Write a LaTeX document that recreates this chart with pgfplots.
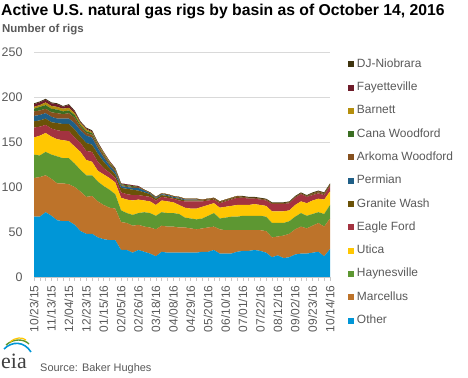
\documentclass[border=0pt]{standalone}
\usepackage{pgfplots}
\pgfplotsset{compat=1.18}
\usepackage{pgfplotstable}
\usepackage{fontspec}
\setmainfont{Liberation Sans}
\newfontfamily\seriffont{Liberation Serif}
\definecolor{cOther}{HTML}{0096D7}
\definecolor{cMarc}{HTML}{BD732A}
\definecolor{cHay}{HTML}{5D9732}
\definecolor{cUti}{HTML}{FFC702}
\definecolor{cEF}{HTML}{A33340}
\definecolor{cGW}{HTML}{6B5208}
\definecolor{cPerm}{HTML}{1F5F87}
\definecolor{cAW}{HTML}{85501F}
\definecolor{cCW}{HTML}{3B6E22}
\definecolor{cBar}{HTML}{B58F0D}
\definecolor{cFay}{HTML}{6E1C2A}
\definecolor{cDJ}{HTML}{3F3410}
\definecolor{txtgray}{HTML}{595959}
\definecolor{gridgray}{HTML}{D9D9D9}
\pgfplotstableread{
x O M H U EF GW P AW CW B F DJ
0 67 43 26 19 11 7 6 5 3 2 3 1
1 67 44 24 22 10 7 6 5 4 2 3 1
2 72 41 26 21 9 7 6 5 4 3 3 1
3 68 41 27 20 9 7 6 5 4 3 3 1
4 63 41 30 19 10 8 5 6 4 3 3 1
5 62 42 28 20 10 8 6 5 3 3 2 1
6 62 41 29 19 11 8 6 6 3 3 3 1
7 58 42 26 19 10 9 7 6 3 2 2 1
8 51 44 24 20 10 7 7 4 2 2 1 1
9 48 41 24 17 10 9 8 3 2 2 1 1
10 48 42 23 15 11 8 8 3 2 1 1 1
11 44 40 22 12 10 9 6 3 1 1 1 1
12 42 38 21 13 7 7 5 3 1 1 1 0
13 41 36 20 13 6 5 3 2 1 1 1 0
14 41 35 16 13 5 4 3 2 1 0 1 0
15 30 31 13 14 6 5 2 1 1 0 1 0
16 30 30 11 15 6 6 2 1 1 0 1 0
17 27 30 12 16 6 6 2 1 1 0 1 0
18 30 28 13 15 5 5 3 1 0 0 1 0
19 28 28 16 13 5 4 2 1 0 0 0 0
20 26 29 16 13 5 3 1 1 0 0 0 0
21 23 30 15 12 5 2 1 1 0 0 0 0
22 28 29 15 13 4 2 1 1 0 0 0 0
23 27 29 15 13 4 2 1 1 0 0 0 0
24 27 29 15 12 4 1 1 1 0 0 0 0
25 27 28 15 10 5 2 1 1 0 0 0 0
26 27 28 11 11 7 1 1 1 0 0 0 0
27 27 27 11 11 8 1 1 1 0 0 0 0
28 27 26 11 12 8 1 1 1 0 0 0 0
29 28 26 11 13 6 1 0 1 0 0 0 0
30 28 27 13 12 5 1 0 1 0 0 0 0
31 30 26 15 11 4 1 0 1 0 0 0 0
32 26 27 12 12 5 1 0 1 0 0 0 0
33 26 26 14 12 6 1 0 1 0 0 0 0
34 26 26 15 12 7 1 0 1 0 0 0 0
35 28 24 15 13 8 1 0 1 0 0 0 0
36 29 23 16 12 8 0 0 1 0 0 0 1
37 29 23 16 12 7 0 0 1 0 0 0 1
38 30 22 16 13 6 0 0 1 0 0 0 1
39 29 23 16 12 6 0 0 1 0 0 0 1
40 27 24 16 12 6 0 0 1 0 0 0 1
41 22 22 16 13 8 0 0 1 0 0 0 1
42 24 21 15 13 8 0 0 1 0 0 0 1
43 21 25 14 13 8 0 0 1 0 0 0 1
44 22 26 14 12 8 0 0 1 0 0 0 1
45 25 28 14 13 8 0 0 1 0 0 0 1
46 26 30 15 13 8 0 0 1 0 0 0 1
47 26 28 14 14 7 0 0 1 0 0 0 1
48 27 30 13 15 6 1 0 1 0 0 0 1
49 28 32 12 15 6 1 0 1 0 0 0 1
50 23 33 14 16 5 1 0 1 0 0 0 1
51 31 34 15 15 6 1 0 1 0 0 0 1
}\rigs
\begin{document}
\begin{tikzpicture}
\path[use as bounding box] (0,0) rectangle (468bp,378bp);
\node[anchor=base west, inner sep=0pt, font=\fontsize{15.8}{18}\selectfont\bfseries] at (1bp,362bp) {Active U.S. natural gas rigs by basin as of October 14, 2016};
\node[anchor=base west, inner sep=0pt, text=txtgray, font=\fontsize{11.5}{14}\selectfont\bfseries] at (2bp,345bp) {Number of rigs};
\begin{axis}[
  at={(34bp,101bp)}, anchor=south west,
  scale only axis, width=296bp, height=225bp,
  xmin=0, xmax=51, ymin=0, ymax=250,
  stack plots=y,
  axis line style={draw=none},
  ytick={0,50,...,250},
  ymajorgrids, grid style={gridgray, line width=0.8pt},
  ytick style={draw=none},
  yticklabel style={font=\fontsize{12.5}{14}\selectfont, text=txtgray, anchor=east, xshift=-8bp},
  /pgf/number format/assume math mode=true,
  xtick={0,3,...,51},
  xticklabels={10/23/15,11/13/15,12/04/15,12/23/15,01/15/16,02/05/16,02/26/16,03/18/16,04/08/16,04/29/16,05/20/16,06/10/16,07/01/16,07/22/16,08/12/16,09/02/16,09/23/16,10/14/16},
  xtick style={draw=none},
  xticklabel style={rotate=90, anchor=east, font=\fontsize{12}{14}\selectfont, text=txtgray, xshift=-5bp},
  legend style={at={(1.05,0.982)}, anchor=north west, draw=none, fill=none,
    font=\fontsize{12}{14}\selectfont, text=txtgray,
    nodes={inner sep=0pt, text height=9bp, text depth=3bp},
    row sep=11.3bp, column sep=3bp},
  legend cell align=left,
  reverse legend,
  legend image code/.code={\fill[#1] (0bp,-3bp) rectangle (6bp,3bp);},
]
\addplot[fill=cOther, draw=none] table[x=x, y=O] {\rigs} \closedcycle;
\addlegendentry{Other}
\addplot[fill=cMarc, draw=none] table[x=x, y=M] {\rigs} \closedcycle;
\addlegendentry{Marcellus}
\addplot[fill=cHay, draw=none] table[x=x, y=H] {\rigs} \closedcycle;
\addlegendentry{Haynesville}
\addplot[fill=cUti, draw=none] table[x=x, y=U] {\rigs} \closedcycle;
\addlegendentry{Utica}
\addplot[fill=cEF, draw=none] table[x=x, y=EF] {\rigs} \closedcycle;
\addlegendentry{Eagle Ford}
\addplot[fill=cGW, draw=none] table[x=x, y=GW] {\rigs} \closedcycle;
\addlegendentry{Granite Wash}
\addplot[fill=cPerm, draw=none] table[x=x, y=P] {\rigs} \closedcycle;
\addlegendentry{Permian}
\addplot[fill=cAW, draw=none] table[x=x, y=AW] {\rigs} \closedcycle;
\addlegendentry{Arkoma Woodford}
\addplot[fill=cCW, draw=none] table[x=x, y=CW] {\rigs} \closedcycle;
\addlegendentry{Cana Woodford}
\addplot[fill=cBar, draw=none] table[x=x, y=B] {\rigs} \closedcycle;
\addlegendentry{Barnett}
\addplot[fill=cFay, draw=none] table[x=x, y=F] {\rigs} \closedcycle;
\addlegendentry{Fayetteville}
\addplot[fill=cDJ, draw=none] table[x=x, y=DJ] {\rigs} \closedcycle;
\addlegendentry{DJ-Niobrara}
\end{axis}
% x axis line and weekly ticks
\draw[gridgray!80!gray, line width=0.8pt] (34bp,101bp) -- (330bp,101bp);
\foreach \i in {0,...,51} {\draw[gridgray!80!gray, line width=0.6pt] ({34bp+\i*296bp/51},101bp) -- ({34bp+\i*296bp/51},97bp);}
% eia logo
\node[anchor=base west, inner sep=0pt, font=\seriffont\fontsize{22}{24}\selectfont, text=black!75] at (1bp,10bp) {eia};
\draw[cOther, line width=1.6pt] (4bp,29bp) .. controls (12bp,37bp) and (24bp,37bp) .. (31bp,26bp);
\draw[cHay, line width=1.4pt] (6bp,33bp) .. controls (14bp,40bp) and (24bp,39bp) .. (29bp,34bp);
\draw[cUti, line width=1.2pt] (10bp,36bp) .. controls (16bp,41bp) and (22bp,41bp) .. (26bp,38bp);
\node[anchor=base west, inner sep=0pt, text=txtgray, font=\fontsize{11}{13}\selectfont] at (40bp,7bp) {Source: Baker Hughes};
\end{tikzpicture}
\end{document}
